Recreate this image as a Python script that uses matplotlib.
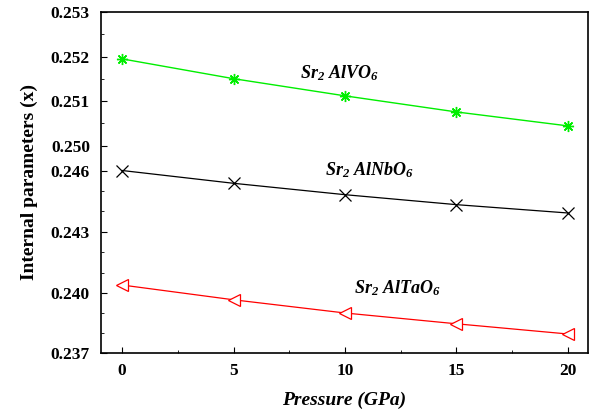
import numpy as np
import matplotlib
matplotlib.use("Agg")
import matplotlib.pyplot as plt
from matplotlib.ticker import FixedLocator, FormatStrFormatter

plt.rcParams['font.family'] = 'Liberation Serif'
plt.rcParams['font.weight'] = 'bold'
plt.rcParams['axes.labelweight'] = 'bold'
plt.rcParams['mathtext.fontset'] = 'custom'
plt.rcParams['mathtext.it'] = 'Liberation Serif:bold:italic'
plt.rcParams['mathtext.rm'] = 'Liberation Serif:bold:italic'

# data
pressure = [0, 5, 10, 15, 20]
alvo6 = [0.25195, 0.25150, 0.25111, 0.25075, 0.25044]
alnbo6 = [0.24603, 0.24538, 0.24482, 0.24433, 0.24392]
altao6 = [0.24039, 0.23966, 0.23900, 0.23846, 0.23795]
ytick_vals = [0.237, 0.240, 0.243, 0.246, 0.250, 0.251, 0.252, 0.253]

# broken (piecewise linear) y axis
tick_pos = [0, 60, 121.3, 182.3, 207.3, 252.3, 296.3, 341]

def fwd(v):
    return np.interp(v, ytick_vals, tick_pos)

def inv(p):
    return np.interp(p, tick_pos, ytick_vals)

fig = plt.figure(figsize=(5.92, 4.12), dpi=100)
ax = fig.add_axes([101/592, 1-353/412, 487/592, 341/412])
ax.set_yscale('function', functions=(fwd, inv))

ax.plot(pressure, alvo6, color='#00ee00', lw=1, marker=(8, 2, 0), ms=8, mew=1)
ax.plot(pressure, alnbo6, color='black', lw=0.9, marker='x', ms=8, mew=0.9)
ax.plot(pressure, altao6, color='red', lw=0.9, marker='<', ms=9, mew=0.9,
        mfc='white')

ax.set_xlim(-0.95, 20.9)
ax.set_ylim(0.237, 0.253)
ax.set_xticks(pressure)
ax.xaxis.set_minor_locator(FixedLocator(np.arange(2.5, 20, 5)))
ax.yaxis.set_major_locator(FixedLocator(ytick_vals))
ax.yaxis.set_minor_locator(FixedLocator([0.238, 0.239, 0.241, 0.242, 0.244, 0.245,
                                         0.2505, 0.2515, 0.2525]))
ax.yaxis.set_major_formatter(FormatStrFormatter('%.3f'))
ax.tick_params(which='both', direction='in', labelsize=12.5)
ax.tick_params(which='major', length=4)
ax.tick_params(which='minor', length=2.5)
ax.tick_params(axis='y', pad=8)
ax.tick_params(axis='x', pad=7)
for s in ax.spines.values():
    s.set_linewidth(1.2)

ax.set_xlabel('Pressure (GPa)', fontsize=14, fontstyle='italic', labelpad=9)
ax.set_ylabel('Internal parameters (x)', fontsize=14, labelpad=9)

ax.text(0.49, 0.82, r'$Sr_2\ AlVO_6$', transform=ax.transAxes, fontsize=13,
        ha='center', va='center')
ax.text(0.552, 0.537, r'$Sr_2\ AlNbO_6$', transform=ax.transAxes, fontsize=13,
        ha='center', va='center')
ax.text(0.608, 0.19, r'$Sr_2\ AlTaO_6$', transform=ax.transAxes, fontsize=13,
        ha='center', va='center')

fig.savefig('out.png', dpi=100)
